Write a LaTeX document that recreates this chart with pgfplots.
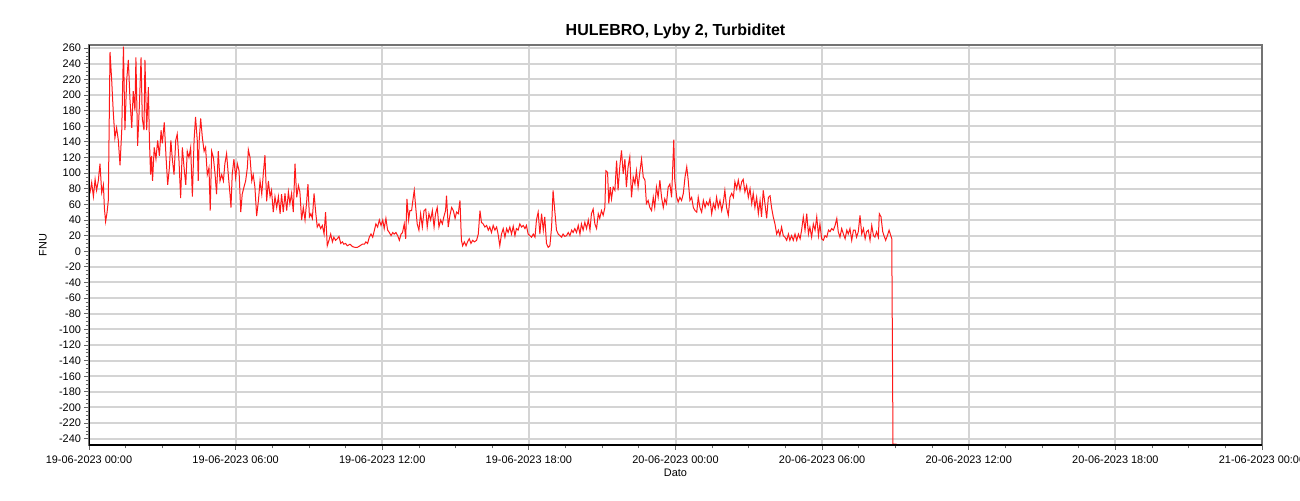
\documentclass[border=0pt]{standalone}
\usepackage{pgfplots}
\pgfplotsset{compat=1.18}
\usepackage{pgfplotstable}
\usepackage{fontspec}
\setmainfont{Liberation Sans}

% hours since 19-06-2023 00:00, FNU
\pgfplotstableread{
h v
0.00 72
0.04 75
0.11 88
0.18 70
0.25 92
0.31 78
0.38 90
0.45 112
0.52 75
0.59 85
0.63 55
0.68 38
0.74 50
0.79 65
0.86 255
0.93 218
0.99 180
1.06 145
1.13 158
1.20 142
1.27 110
1.34 155
1.41 262
1.47 155
1.54 218
1.61 245
1.68 192
1.75 158
1.81 205
1.88 180
1.92 248
1.99 135
2.06 185
2.13 248
2.18 170
2.25 155
2.29 245
2.36 155
2.43 210
2.47 145
2.52 98
2.56 122
2.60 90
2.67 133
2.74 118
2.81 142
2.88 122
2.95 155
3.00 138
3.08 165
3.15 122
3.22 85
3.29 107
3.35 142
3.41 118
3.48 98
3.55 142
3.61 150
3.68 118
3.75 68
3.82 133
3.89 107
3.96 85
4.02 128
4.09 120
4.16 133
4.23 70
4.30 142
4.36 172
4.43 142
4.47 90
4.51 142
4.57 170
4.64 145
4.71 128
4.77 133
4.84 98
4.91 107
4.96 52
5.02 128
5.09 120
5.16 98
5.22 73
5.29 128
5.36 90
5.43 98
5.50 90
5.56 112
5.63 125
5.70 98
5.77 73
5.81 56
5.86 98
5.93 118
6.00 94
6.07 112
6.14 103
6.21 50
6.27 73
6.34 82
6.41 90
6.48 107
6.52 130
6.59 120
6.66 90
6.72 98
6.79 82
6.86 45
6.93 64
7.00 90
7.07 73
7.13 98
7.20 123
7.27 64
7.34 90
7.41 70
7.47 78
7.54 50
7.61 70
7.68 56
7.75 70
7.82 48
7.88 73
7.95 50
8.02 74
8.09 52
8.16 76
8.22 61
8.29 74
8.36 50
8.43 112
8.50 69
8.57 84
8.63 76
8.70 40
8.77 56
8.84 40
8.91 65
8.96 86
9.02 44
9.08 48
9.14 42
9.21 74
9.27 52
9.34 31
9.41 35
9.48 29
9.55 33
9.62 22
9.68 50
9.75 7
9.82 14
9.89 22
9.96 12
10.02 18
10.09 14
10.16 16
10.23 19
10.30 10
10.37 12
10.43 9
10.50 10
10.57 7
10.68 9
10.78 6
10.88 5
10.98 5
11.09 7
11.18 9
11.27 9
11.33 12
11.40 10
11.47 18
11.54 22
11.61 18
11.68 27
11.74 35
11.81 31
11.88 40
11.95 33
12.02 40
12.08 29
12.15 42
12.22 27
12.29 24
12.36 20
12.43 24
12.49 22
12.56 24
12.63 20
12.70 14
12.77 22
12.83 24
12.90 35
12.96 16
13.01 67
13.08 40
13.13 52
13.20 52
13.27 69
13.31 78
13.37 56
13.43 35
13.50 27
13.57 48
13.64 31
13.71 52
13.78 54
13.84 31
13.91 48
13.98 40
14.05 52
14.12 31
14.18 48
14.25 56
14.32 31
14.39 40
14.46 35
14.52 44
14.59 52
14.63 71
14.70 31
14.77 46
14.84 56
14.91 52
14.98 42
15.04 50
15.11 48
15.18 65
15.24 14
15.29 7
15.36 12
15.43 7
15.49 12
15.56 16
15.63 10
15.70 14
15.77 12
15.86 14
15.93 22
16.00 52
16.06 37
16.13 35
16.20 31
16.27 33
16.34 27
16.40 31
16.47 24
16.54 33
16.61 27
16.68 31
16.74 22
16.81 7
16.88 22
16.95 29
17.02 18
17.09 29
17.15 24
17.22 31
17.29 22
17.36 32
17.43 20
17.49 29
17.56 27
17.63 35
17.70 31
17.77 33
17.84 29
17.90 33
17.97 22
18.04 20
18.11 18
18.18 22
18.25 18
18.31 40
18.38 50
18.45 22
18.52 48
18.59 27
18.65 44
18.72 10
18.79 5
18.86 7
18.93 31
18.99 78
19.06 52
19.13 27
19.20 22
19.27 20
19.34 18
19.40 22
19.47 19
19.54 20
19.61 24
19.68 20
19.75 27
19.81 24
19.88 29
19.95 24
20.02 33
20.09 22
20.15 35
20.22 27
20.29 37
20.36 29
20.43 40
20.50 27
20.56 48
20.63 54
20.70 35
20.77 29
20.84 48
20.90 42
20.97 52
21.04 46
21.11 56
21.15 103
21.22 101
21.27 61
21.33 82
21.38 67
21.45 82
21.52 78
21.59 116
21.65 78
21.72 108
21.79 129
21.86 99
21.93 118
21.99 82
22.06 108
22.13 121
22.20 69
22.27 95
22.34 86
22.40 103
22.47 82
22.54 101
22.61 118
22.68 95
22.75 91
22.81 61
22.88 65
22.95 56
23.02 52
23.09 69
23.15 56
23.22 82
23.29 69
23.36 91
23.43 69
23.50 56
23.56 67
23.63 61
23.70 82
23.77 86
23.84 69
23.93 143
23.97 91
24.05 69
24.11 63
24.18 69
24.25 65
24.32 74
24.39 95
24.46 108
24.52 91
24.59 65
24.66 69
24.73 56
24.80 52
24.87 50
24.93 69
25.00 56
25.07 50
25.14 65
25.21 56
25.27 63
25.34 59
25.41 67
25.48 48
25.55 61
25.62 54
25.68 69
25.75 56
25.82 65
25.89 52
25.96 63
26.02 78
26.09 56
26.16 46
26.23 69
26.30 74
26.37 69
26.43 89
26.50 80
26.57 91
26.64 78
26.71 89
26.77 92
26.84 76
26.91 84
26.98 69
27.05 80
27.12 61
27.18 74
27.25 56
27.32 69
27.39 48
27.46 65
27.52 44
27.59 78
27.66 61
27.73 42
27.80 69
27.87 71
27.93 56
28.00 44
28.07 35
28.14 22
28.21 27
28.27 20
28.34 31
28.41 20
28.48 18
28.55 14
28.62 22
28.68 14
28.75 20
28.82 14
28.89 22
28.96 14
29.03 22
29.10 16
29.16 27
29.23 44
29.30 27
29.37 48
29.44 22
29.50 31
29.57 18
29.64 35
29.71 27
29.78 44
29.85 20
29.91 35
29.98 16
30.05 14
30.12 20
30.19 18
30.26 27
30.32 25
30.39 29
30.46 27
30.53 33
30.60 42
30.66 25
30.73 18
30.80 29
30.87 22
30.94 16
31.01 27
31.07 22
31.14 29
31.21 14
31.28 27
31.35 27
31.41 18
31.48 25
31.55 46
31.62 22
31.69 29
31.76 16
31.82 25
31.89 27
31.96 14
32.03 33
32.10 20
32.16 18
32.23 25
32.30 18
32.34 48
32.41 44
32.48 25
32.53 20
32.60 14
32.67 20
32.74 27
32.79 22
32.85 16
32.90 -247
33.05 -247
}\turb

\begin{document}
\begin{tikzpicture}
\useasboundingbox (0,0) rectangle (975pt,375pt);
\fill[white] (0,0) rectangle (975pt,375pt);
\begin{axis}[
  at={(66.75pt,41.25pt)}, anchor=south west,
  width=879.75pt, height=300pt, scale only axis,
  xmin=0, xmax=48, ymin=-248, ymax=264,
  xtick={0,6,...,48},
  xticklabels={19-06-2023 00:00,19-06-2023 06:00,19-06-2023 12:00,19-06-2023 18:00,20-06-2023 00:00,20-06-2023 06:00,20-06-2023 12:00,20-06-2023 18:00,21-06-2023 00:00},
  ytick={-240,-220,...,260},
  minor x tick num=3, minor y tick num=3,
  tick pos=left, tick align=outside,
  major tick length=3.5pt, minor tick length=2.5pt,
  every tick/.style={gray!80!black, line width=0.6pt},
  grid=major,
  major grid style={color=black!17, line width=1.5pt},
  axis line style={color=black!55, line width=1.5pt},
  ticklabel style={font=\fontsize{8.2}{9}\selectfont},
  /pgf/number format/assume math mode=true,
  xticklabel style={anchor=north, yshift=-1pt},
  yticklabel style={anchor=east, xshift=1pt},
  title={HULEBRO, Lyby 2, Turbiditet},
  every axis title/.style={at={(rel axis cs:0.5,1)}, anchor=center, yshift=10pt, font=\bfseries\fontsize{12}{14}\selectfont},
  xlabel={Dato},
  every axis x label/.style={at={(rel axis cs:0.5,0)}, anchor=center, yshift=-21pt, font=\fontsize{8.2}{9}\selectfont},
  ylabel={FNU},
  every axis y label/.style={at={(rel axis cs:0,0.5)}, xshift=-34.5pt, anchor=center, rotate=90, font=\fontsize{8.2}{9}\selectfont},
]
\addplot[color=red!90!white, line width=0.75pt] table[x=h, y=v] {\turb};
\draw[black, line width=1.8pt] (rel axis cs:0,1) -- (rel axis cs:0,0) -- (rel axis cs:1,0);
\end{axis}
\end{tikzpicture}
\end{document}
